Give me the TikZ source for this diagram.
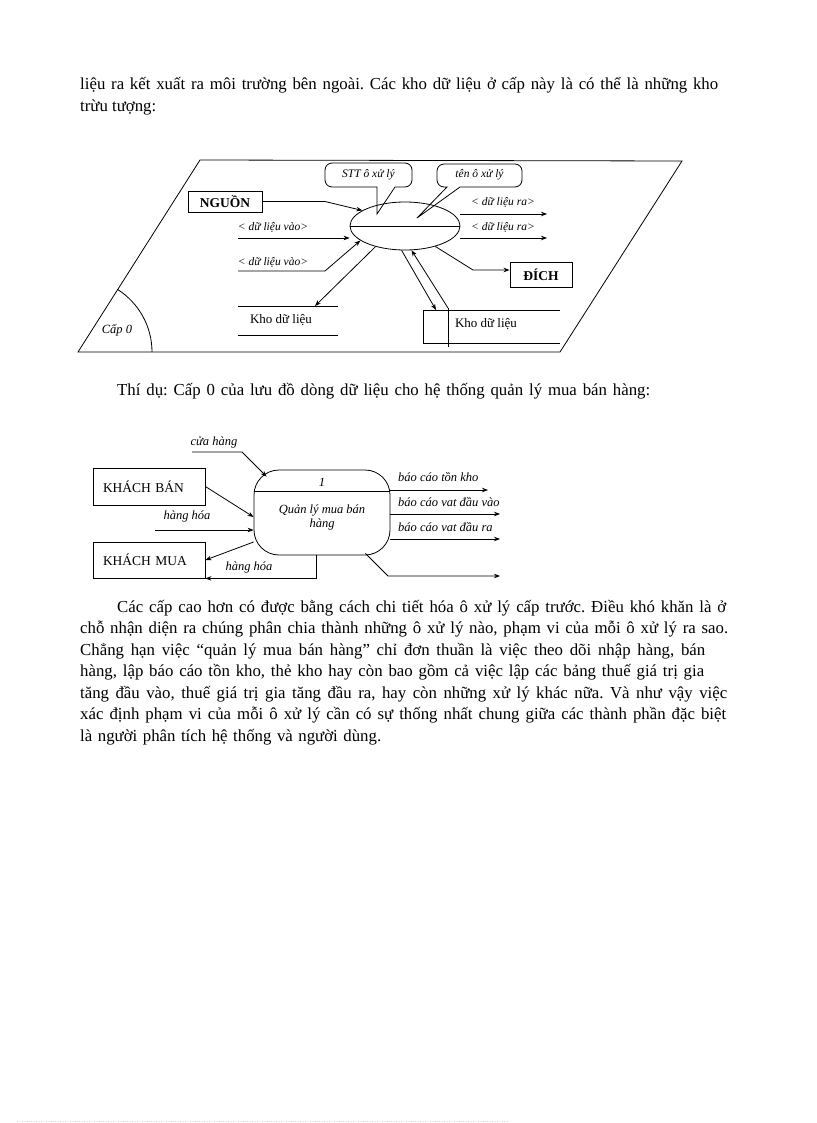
\documentclass[tikz,border=0pt]{standalone}
\usepackage{fontspec}
\setmainfont{Liberation Serif}
\usetikzlibrary{arrows.meta,shapes.geometric,calc}
\frenchspacing
\begin{document}
\begin{tikzpicture}[x=1pt,y=-1pt,
  body/.style={anchor=base west,inner sep=0pt,font=\fontsize{16.8}{19}\selectfont},
  lblA/.style={inner sep=0pt,font=\fontsize{11.5}{13}\selectfont\itshape},
  lblB/.style={inner sep=0pt,font=\fontsize{12.5}{14}\selectfont\itshape},
  ln/.style={line width=0.8pt},
  arr/.style={line width=0.8pt,-{Stealth[length=6pt,width=4.5pt]}},
  boxA/.style={draw,line width=0.9pt,inner sep=0pt,font=\fontsize{13.5}{15}\selectfont\bfseries},
  boxB/.style={draw,line width=0.8pt,inner xsep=10pt,inner ysep=0pt,text width=92pt,align=left,minimum height=36pt,font=\fontsize{13.5}{15}\selectfont}]
\useasboundingbox[fill=white] (0,0) rectangle (816,1123);

% ---------- text above ----------
\node[body] (t1) at (80,90) {\makebox[638pt][s]{liệu ra kết xuất ra môi trường bên ngoài. Các kho dữ liệu ở cấp này là có thể là những kho}};
\node[body] (t2) at (80,111.5) {trừu tượng:};

% ---------- diagram 1 ----------
\draw[ln] (200,160) -- (682,161) -- (560,352) -- (78,352) -- cycle;
\draw[ln] (78,352) ++(-57.6:74) arc[start angle=-57.6,end angle=0,radius=74];
\node[lblB] (cap) at (117,330) {Cấp 0};

\node[draw,ellipse,line width=0.8pt,minimum width=110pt,minimum height=48pt,inner sep=0pt] (P) at (405,226) {};
\draw[ln] (P.west) -- (P.east);

% callouts
\draw[ln] (377,214) -- (377,187) [rounded corners=7pt] -- (325,187) -- (325,163) -- (412,163) -- (412,187) [sharp corners] -- (395,187) -- cycle;
\node[lblA] (stt) at (368.5,175) {STT ô xử lý};
\draw[ln] (417,218) -- (447,187) [rounded corners=7pt] -- (437,187) -- (437,164) -- (522,164) -- (522,187) [sharp corners] -- (460,187) -- cycle;
\node[lblA] (ten) at (479.5,175) {tên ô xử lý};

% source
\node[boxA,minimum width=74pt,minimum height=21pt] (src) at (225,201.5) {NGUỒN};
\draw[arr] (src.east) -- (325,201.5) -- (P.160);

% inputs
\coordinate (i1) at (238,238);
\node[lblA] (li1) at (273,227) {< dữ liệu vào>};
\draw[arr] (i1) -- (i1 -| P.west);
\coordinate (i2) at (238,271);
\node[lblA] (li2) at (273,262) {< dữ liệu vào>};
\draw[arr] (i2) -- (325,271) -- (P.198);

% outputs
\coordinate (o1s) at (460,214);
\coordinate (o1) at (547,214);
\node[lblA] (lo1) at (503,202) {< dữ liệu ra>};
\draw[arr] (o1s) -- (o1);
\coordinate (o2s) at (460,238);
\coordinate (o2) at (547,238);
\node[lblA] (lo2) at (503,227) {< dữ liệu ra>};
\draw[arr] (o2s) -- (o2);

% destination
\node[boxA,minimum width=62pt,minimum height=25pt] (D) at (541,274.5) {ĐÍCH};
\coordinate (dk) at (473,270);
\draw[arr] (P.326) -- (dk) -- (dk -| D.west);

% left store
\draw[ln] (238,306) -- (338,306);
\draw[ln] (238,335) -- (338,335);
\node[inner sep=0pt,font=\fontsize{13}{14}\selectfont] (S1) at (281,320) {Kho dữ liệu};
\coordinate (s1t) at (315,306);
\draw[arr] (P.215) -- (s1t);

% right store
\draw[ln] (560,310) -- (423,310) -- (423,343) -- (560,343);
\draw[ln] (448,308) -- (448,347);
\node[inner sep=0pt,font=\fontsize{13}{14}\selectfont] (S2) at (486,324) {Kho dữ liệu};
\coordinate (s2a) at (436,310);
\coordinate (s2b) at (448,308);
\draw[arr] (P.262) -- (s2a);
\draw[arr] (s2b) -- (P.285);

% ---------- text middle ----------
\node[body] (t3) at (117,395) {\makebox[533pt][s]{Thí dụ: Cấp 0 của lưu đồ dòng dữ liệu cho hệ thống quản lý mua bán hàng:}};

% ---------- diagram 2 ----------
\node[draw,line width=0.8pt,rounded corners=25pt,minimum width=136pt,minimum height=85pt,inner sep=0pt] (Q) at (322,512.5) {};
\draw[ln] ($(Q.north west)+(0,22)$) -- ($(Q.north east)+(0,22)$);
\node[lblB] (q1) at (322,482) {1};
\node[lblB,align=center] (q2) at (322,517) {Quản lý mua bán\\hàng};

\node[lblB] (lch) at (214,442) {cửa hàng};
\coordinate (chs) at (192,452);
\draw[arr] (chs) -- (242,452) -- ($(Q.north west)+(13,7)$);

\node[boxB,minimum height=37pt] (KB) at (149,486.5) {KHÁCH BÁN};
\draw[arr] (KB.east) -- ($(Q.west)+(0,4.5)$);

\node[lblB] (lhh1) at (187,516) {hàng hóa};
\coordinate (hh) at (155,530);
\draw[arr] (hh) -- (hh -| Q.west);

\node[boxB] (KM) at (149,560) {KHÁCH MUA};
\draw[arr] ($(Q.west)+(0,29.5)$) -- (KM.east);
\node[lblB] (lhh2) at (249,567) {hàng hóa};
\draw[arr] ($(Q.south)+(-6,0)$) -- ++(0,23) -- (KM.south east);

\coordinate (r1) at (488,490);
\coordinate (r2) at (500,514);
\coordinate (r3) at (500,539);
\coordinate (r4) at (500,576);
\node[lblB,anchor=west] (lr1) at (398,477) {báo cáo tồn kho};
\node[lblB,anchor=west] (lr2) at (398,502) {báo cáo vat đầu vào};
\node[lblB,anchor=west] (lr3) at (398,527) {báo cáo vat đầu ra};
\draw[arr] (r1 -| Q.east) -- (r1);
\draw[arr] (r2 -| Q.east) -- (r2);
\draw[arr] (r3 -| Q.east) -- (r3);
\draw[arr] ($(Q.south east)+(-25,-2)$) -- (388,576) -- (r4);

% ---------- text below ----------
\node[body] (p1) at (117,612) {\makebox[609pt][s]{Các cấp cao hơn có được bằng cách chi tiết hóa ô xử lý cấp trước. Điều khó khăn là ở}};
\node[body] (p2) at (80,633.5) {\makebox[648pt][s]{chỗ nhận diện ra chúng phân chia thành những ô xử lý nào, phạm vi của mỗi ô xử lý ra sao.}};
\node[body] (p3) at (80,655) {\makebox[625pt][s]{Chẳng hạn việc “quản lý mua bán hàng” chỉ đơn thuần là việc theo dõi nhập hàng, bán}};
\node[body] (p4) at (80,676.5) {\makebox[624pt][s]{hàng, lập báo cáo tồn kho, thẻ kho hay còn bao gồm cả việc lập các bảng thuế giá trị gia}};
\node[body] (p5) at (80,698) {\makebox[647pt][s]{tăng đầu vào, thuế giá trị gia tăng đầu ra, hay còn những xử lý khác nữa. Và như vậy việc}};
\node[body] (p6) at (80,719.5) {\makebox[646pt][s]{xác định phạm vi của mỗi ô xử lý cần có sự thống nhất chung giữa các thành phần đặc biệt}};
\node[body] (p7) at (80,741) {\makebox[301pt][s]{là người phân tích hệ thống và người dùng.}};

\draw[gray!35,dotted] (17,1121) -- (507,1121);
\end{tikzpicture}
\end{document}
